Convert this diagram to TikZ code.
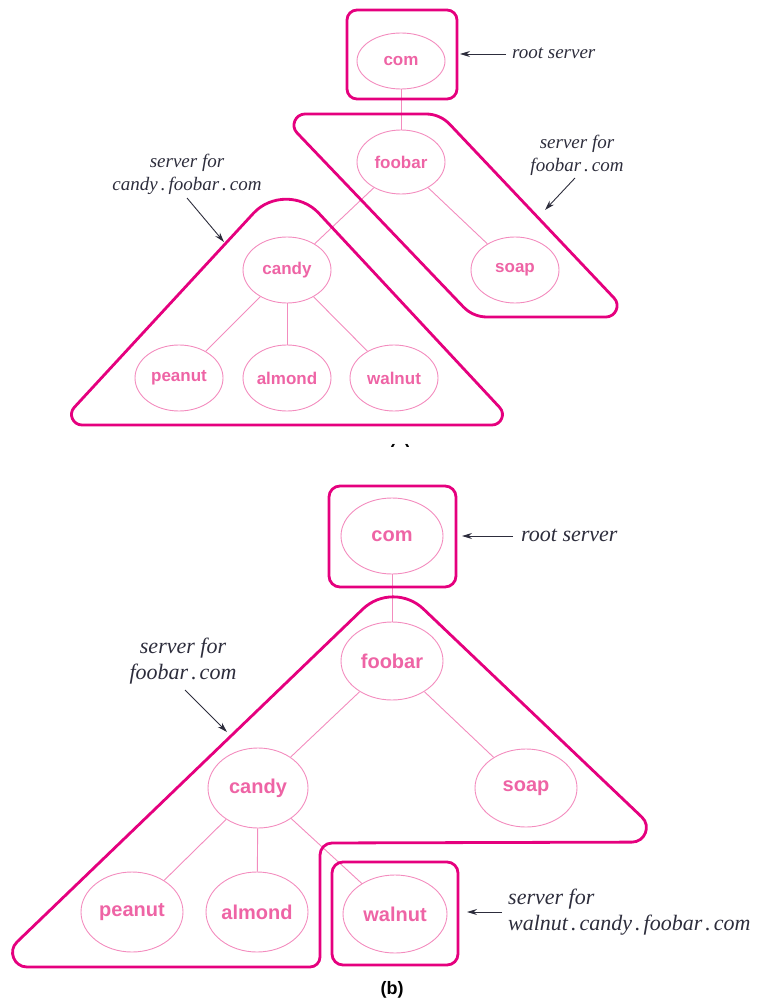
\documentclass[tikz,border=0pt]{standalone}
\usepackage{fontspec}
\setmainfont{Liberation Serif}
\newfontfamily\nfont{Liberation Sans}
\usetikzlibrary{shapes.geometric,calc,arrows.meta}
\definecolor{boxc}{RGB}{229,0,126}
\definecolor{thinc}{RGB}{243,140,190}
\definecolor{txtc}{RGB}{238,100,165}
\definecolor{lblc}{RGB}{45,45,60}
\newcommand\pdot{\kern3pt.\kern3pt}
\tikzset{
 rc/.style args={#1/#2/#3/#4/#5}{insert path={-- ($(#2)!#4!(#1)$) .. controls ($(#2)!#5*#4!(#1)$) and ($(#2)!#5*#4!(#3)$) .. ($(#2)!#4!(#3)$)}},
 srv/.style={draw=boxc, line width=2.8pt, line join=round},
 elA/.style={ellipse, draw=thinc, line width=0.9pt, inner sep=0pt, minimum width=88pt, minimum height=66pt, text=txtc, font=\nfont\bfseries\fontsize{17}{19}\selectfont},
 elB/.style={elA, minimum width=102pt, minimum height=78pt, font=\nfont\bfseries\fontsize{20}{23}\selectfont},
 edge/.style={draw=thinc, line width=0.9pt},
 lblA/.style={text=lblc, font=\itshape\fontsize{19}{23}\selectfont, align=center, inner sep=0pt},
 lblB/.style={lblA, font=\itshape\fontsize{22}{26}\selectfont},
 ptr/.style={draw=lblc, line width=0.9pt, -{Stealth[length=10pt,width=6pt]}},
}
\begin{document}
\begin{tikzpicture}[x=1pt,y=-1pt]
\useasboundingbox (0,0) rectangle (762,1008);

%% ---------------- part (a) ----------------
\node[elA, minimum height=56pt] (comA) at (401,61) {com};
\node[elA, minimum height=64pt] (foobarA) at (401,162) {foobar};
\node[elA] (soapA) at (515,270) {soap};
\node[elA] (candyA) at (287,270) {candy};
\node[elA] (peanutA) at (179,378) {peanut};
\node[elA] (almondA) at (287,378) {almond};
\node[elA] (walnutA) at (394,378) {walnut};

\draw[edge] (comA) -- (foobarA);
\draw[edge] (foobarA) -- (candyA);
\draw[edge] (foobarA) -- (soapA);
\draw[edge] (candyA) -- (peanutA);
\draw[edge] (candyA) -- (almondA);
\draw[edge] (candyA) -- (walnutA);

% root box
\draw[srv, rounded corners=10pt] (347,10) rectangle (457,99);

% foobar.com parallelogram
\coordinate (pTL) at (279,114);
\coordinate (pTR) at (440,114);
\coordinate (pBR) at (632,317);
\coordinate (pBL) at (473,317);
\draw[srv] ($(pBL)!0.5!(pTL)$) [rc=pBL/pTL/pTR/26pt/0.63] [rc=pTL/pTR/pBR/14pt/0.36]
  [rc=pTR/pBR/pBL/26pt/0.63] [rc=pBR/pBL/pTL/14pt/0.36] -- cycle;

% candy.foobar.com triangle
\coordinate (tA) at (286,178);
\coordinate (tR) at (516,425);
\coordinate (tL) at (58,425);
\draw[srv] ($(tL)!0.5!(tR)$) [rc=tL/tR/tA/24pt/0.62] [rc=tR/tA/tL/48pt/0.47] [rc=tA/tL/tR/24pt/0.62] -- cycle;

% labels (a)
\node[lblA, anchor=west] (rootA) at (512,53) {root server};
\coordinate (rootAt) at (506,54);
\coordinate (rootAh) at (460,54);
\draw[ptr] (rootAt) -- (rootAh);

\node[lblA] (candyL) at (187,174) {server for\\candy\pdot foobar\pdot com};
\coordinate (candyLt) at (187,198);
\coordinate (candyLh) at (224,242);
\draw[ptr] (candyLt) -- (candyLh);

\node[lblA] (foobarL) at (577,155) {server for\\foobar\pdot com};
\coordinate (foobarLt) at (575,178);
\coordinate (foobarLh) at (545,210);
\draw[ptr] (foobarLt) -- (foobarLh);

% partially visible caption (a)
\begin{scope}
\clip (370,438) rectangle (430,446.5);
\node[anchor=base, font=\nfont\bfseries\fontsize{18}{20}\selectfont] (capA) at (400,457) {(a)};
\end{scope}

%% ---------------- part (b) ----------------
\node[elB, minimum height=76pt] (comB) at (392,536) {com};
\node[elB] (foobarB) at (392,661) {foobar};
\node[elB, minimum width=100pt, minimum height=80pt] (candyB) at (258,788) {candy};
\node[elB] (soapB) at (526,788) {soap};
\node[elB, minimum height=80pt] (peanutB) at (132,912) {peanut};
\node[elB, minimum height=80pt] (almondB) at (257,912) {almond};
\node[elB, minimum width=104pt] (walnutB) at (395,914) {walnut};

\draw[edge] (comB) -- (foobarB);
\draw[edge] (foobarB) -- (candyB);
\draw[edge] (foobarB) -- (soapB);
\draw[edge] (candyB) -- (peanutB);
\draw[edge] (candyB) -- (almondB);
\draw[edge] (candyB) -- (walnutB);

\draw[srv, rounded corners=11pt] (329,486) rectangle (456,587);
\draw[srv, rounded corners=11pt] (332,862) rectangle (458,965);

\coordinate (bA) at (393,580);
\coordinate (bR) at (668,842);
\coordinate (bN1) at (320,843);
\coordinate (bN2) at (320,967);
\coordinate (bL) at (-9,967);
\draw[srv] ($(bL)!0.5!(bA)$) [rc=bL/bA/bR/42pt/0.44] [rc=bA/bR/bN1/36pt/0.64] [rc=bR/bN1/bN2/12pt/0.45]
  [rc=bN1/bN2/bL/10pt/0.45] [rc=bN2/bL/bA/36pt/0.64] -- cycle;

\node[lblB, anchor=west] (rootB) at (521,535) {root server};
\coordinate (rootBt) at (513,536);
\coordinate (rootBh) at (462,536);
\draw[ptr] (rootBt) -- (rootBh);

\node[lblB] (foobarLB) at (183,661) {server for\\foobar\pdot com};
\coordinate (foobarLBt) at (185,690);
\coordinate (foobarLBh) at (227,732);
\draw[ptr] (foobarLBt) -- (foobarLBh);

\node[lblB, anchor=west, align=left] (walnutL) at (508,912) {server for\\walnut\pdot candy\pdot foobar\pdot com};
\coordinate (walnutLt) at (502,912);
\coordinate (walnutLh) at (467,912);
\draw[ptr] (walnutLt) -- (walnutLh);

\node[font=\nfont\bfseries\fontsize{18}{20}\selectfont] (capB) at (392,990) {(b)};
\end{tikzpicture}
\end{document}
